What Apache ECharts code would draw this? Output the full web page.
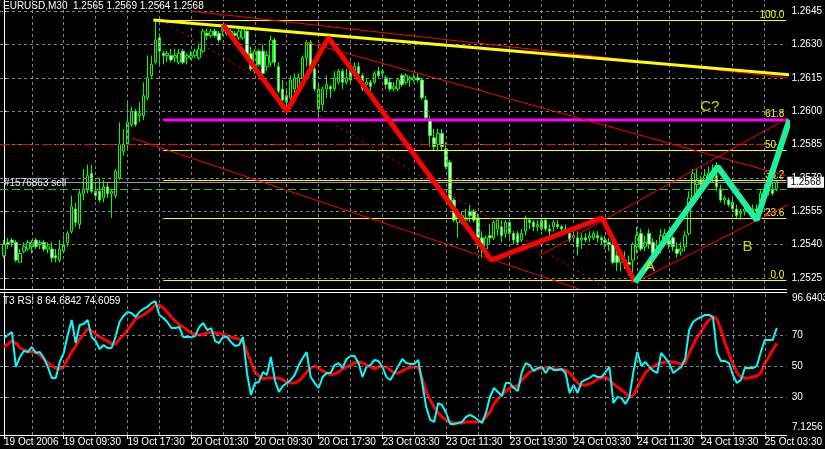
<!DOCTYPE html>
<html><head><meta charset="utf-8">
<script src="https://cdn.jsdelivr.net/npm/echarts@6/dist/echarts.min.js"></script>
<style>html,body{margin:0;padding:0;background:#000;overflow:hidden}#c{width:825px;height:449px}</style>
</head><body><div id="c"></div>
<script>
// ---- candles (bar index = position in arrays) ----
const opens = [1.2535,1.2541,1.2542,1.2541,1.2532,1.2537,1.2538,1.2539,1.2542,1.2540,1.2541,1.2538,1.2538,1.2535,1.2533,1.2537,1.2541,1.2546,1.2556,1.2549,
1.2563,1.2565,1.2572,1.2564,1.2564,1.2561,1.2566,1.2563,1.2562,1.2570,1.2582,1.2585,1.2594,1.2600,1.2598,1.2598,1.2606,1.2616,1.2622,1.2633,
1.2626,1.2625,1.2625,1.2624,1.2622,1.2627,1.2624,1.2624,1.2625,1.2624,1.2627,1.2635,1.2634,1.2636,1.2635,1.2636,1.2637,1.2636,1.2635,1.2633,
1.2633,1.2636,1.2626,1.2618,1.2627,1.2627,1.2620,1.2622,1.2632,1.2620,1.2610,1.2607,1.2606,1.2610,1.2610,1.2615,1.2624,1.2631,1.2619,1.2601,
1.2603,1.2610,1.2611,1.2610,1.2613,1.2618,1.2613,1.2620,1.2618,1.2620,1.2616,1.2612,1.2613,1.2613,1.2618,1.2617,1.2615,1.2613,1.2610,1.2610,
1.2616,1.2613,1.2614,1.2614,1.2615,1.2614,1.2605,1.2596,1.2588,1.2585,1.2590,1.2583,1.2577,1.2560,1.2550,1.2550,1.2551,1.2555,1.2555,1.2552,
1.2543,1.2538,1.2544,1.2543,1.2547,1.2548,1.2545,1.2550,1.2545,1.2545,1.2542,1.2546,1.2551,1.2550,1.2548,1.2551,1.2551,1.2547,1.2548,1.2549,
1.2548,1.2547,1.2545,1.2543,1.2543,1.2542,1.2543,1.2543,1.2543,1.2544,1.2543,1.2542,1.2541,1.2540,1.2535,1.2532,1.2533,1.2532,1.2533,1.2539,
1.2545,1.2539,1.2545,1.2541,1.2536,1.2541,1.2542,1.2542,1.2543,1.2538,1.2537,1.2539,1.2545,1.2561,1.2567,1.2569,1.2568,1.2568,1.2572,1.2571,
1.2565,1.2560,1.2560,1.2559,1.2556,1.2554,1.2555,1.2555,1.2554,1.2556,1.2557,1.2562,1.2564,1.2565,1.2565];
const highs = [1.2542,1.2543,1.2543,1.2542,1.2538,1.2541,1.2542,1.2542,1.2543,1.2542,1.2542,1.2541,1.2541,1.2538,1.2542,1.2544,1.2546,1.2562,1.2559,1.2565,
1.2574,1.2576,1.2576,1.2568,1.2570,1.2569,1.2568,1.2565,1.2574,1.2595,1.2592,1.2604,1.2602,1.2601,1.2604,1.2613,1.2625,1.2625,1.2641,1.2635,
1.2627,1.2627,1.2628,1.2628,1.2628,1.2628,1.2626,1.2627,1.2628,1.2630,1.2637,1.2637,1.2637,1.2637,1.2636,1.2639,1.2638,1.2637,1.2636,1.2637,
1.2638,1.2637,1.2629,1.2628,1.2628,1.2630,1.2627,1.2634,1.2633,1.2622,1.2614,1.2610,1.2616,1.2617,1.2617,1.2625,1.2632,1.2632,1.2622,1.2612,
1.2611,1.2616,1.2612,1.2618,1.2619,1.2619,1.2619,1.2622,1.2622,1.2622,1.2617,1.2615,1.2614,1.2618,1.2620,1.2619,1.2616,1.2615,1.2613,1.2615,
1.2617,1.2617,1.2616,1.2617,1.2617,1.2615,1.2607,1.2598,1.2592,1.2592,1.2592,1.2586,1.2578,1.2561,1.2556,1.2555,1.2556,1.2558,1.2556,1.2554,
1.2546,1.2544,1.2549,1.2551,1.2552,1.2551,1.2551,1.2552,1.2546,1.2546,1.2547,1.2553,1.2552,1.2551,1.2551,1.2552,1.2552,1.2549,1.2551,1.2551,
1.2549,1.2549,1.2546,1.2546,1.2546,1.2545,1.2545,1.2546,1.2546,1.2546,1.2544,1.2544,1.2543,1.2542,1.2537,1.2537,1.2537,1.2535,1.2541,1.2548,
1.2547,1.2544,1.2547,1.2543,1.2542,1.2547,1.2547,1.2544,1.2544,1.2541,1.2541,1.2546,1.2564,1.2574,1.2574,1.2571,1.2574,1.2575,1.2576,1.2577,
1.2567,1.2562,1.2561,1.2561,1.2558,1.2556,1.2557,1.2557,1.2558,1.2558,1.2565,1.2567,1.2567,1.2568,1.2569];
const lows = [1.2534,1.2538,1.2539,1.2532,1.2532,1.2536,1.2537,1.2536,1.2538,1.2538,1.2537,1.2536,1.2532,1.2532,1.2532,1.2536,1.2539,1.2545,1.2548,1.2547,
1.2560,1.2563,1.2563,1.2560,1.2559,1.2559,1.2561,1.2552,1.2561,1.2569,1.2580,1.2583,1.2593,1.2593,1.2595,1.2596,1.2605,1.2615,1.2621,1.2620,
1.2621,1.2622,1.2622,1.2622,1.2621,1.2621,1.2621,1.2623,1.2624,1.2623,1.2626,1.2632,1.2633,1.2633,1.2631,1.2634,1.2634,1.2633,1.2632,1.2632,
1.2632,1.2624,1.2618,1.2617,1.2620,1.2616,1.2618,1.2620,1.2620,1.2608,1.2602,1.2600,1.2605,1.2607,1.2609,1.2614,1.2620,1.2618,1.2609,1.2596,
1.2600,1.2606,1.2606,1.2609,1.2612,1.2610,1.2612,1.2613,1.2617,1.2616,1.2609,1.2610,1.2609,1.2612,1.2615,1.2615,1.2610,1.2609,1.2609,1.2609,
1.2611,1.2612,1.2611,1.2613,1.2613,1.2605,1.2596,1.2584,1.2582,1.2582,1.2582,1.2574,1.2558,1.2550,1.2543,1.2549,1.2550,1.2550,1.2550,1.2538,
1.2534,1.2535,1.2540,1.2542,1.2544,1.2541,1.2543,1.2543,1.2540,1.2540,1.2541,1.2544,1.2547,1.2546,1.2546,1.2546,1.2546,1.2543,1.2546,1.2547,
1.2546,1.2545,1.2541,1.2541,1.2535,1.2538,1.2541,1.2541,1.2542,1.2541,1.2540,1.2538,1.2537,1.2531,1.2528,1.2528,1.2529,1.2526,1.2524,1.2536,
1.2537,1.2537,1.2538,1.2535,1.2534,1.2536,1.2541,1.2538,1.2537,1.2534,1.2535,1.2537,1.2544,1.2560,1.2563,1.2564,1.2565,1.2567,1.2568,1.2564,
1.2559,1.2558,1.2557,1.2555,1.2552,1.2551,1.2553,1.2554,1.2553,1.2552,1.2555,1.2561,1.2562,1.2562,1.2564];
const closes = [1.2540,1.2540,1.2541,1.2533,1.2536,1.2539,1.2541,1.2541,1.2539,1.2541,1.2538,1.2539,1.2534,1.2534,1.2538,1.2540,1.2545,1.2557,1.2550,1.2563,
1.2565,1.2571,1.2564,1.2562,1.2560,1.2566,1.2563,1.2564,1.2573,1.2585,1.2585,1.2595,1.2600,1.2594,1.2599,1.2607,1.2615,1.2621,1.2632,1.2627,
1.2625,1.2626,1.2623,1.2625,1.2626,1.2622,1.2625,1.2625,1.2627,1.2628,1.2636,1.2634,1.2636,1.2634,1.2632,1.2637,1.2635,1.2634,1.2634,1.2636,
1.2637,1.2625,1.2619,1.2627,1.2621,1.2617,1.2625,1.2632,1.2622,1.2609,1.2605,1.2604,1.2614,1.2615,1.2615,1.2624,1.2631,1.2620,1.2610,1.2610,
1.2610,1.2612,1.2610,1.2615,1.2618,1.2613,1.2615,1.2614,1.2620,1.2617,1.2610,1.2613,1.2611,1.2617,1.2616,1.2618,1.2612,1.2610,1.2611,1.2614,
1.2612,1.2616,1.2615,1.2615,1.2614,1.2606,1.2597,1.2589,1.2584,1.2590,1.2584,1.2575,1.2559,1.2551,1.2553,1.2553,1.2552,1.2553,1.2551,1.2543,
1.2538,1.2543,1.2543,1.2550,1.2551,1.2544,1.2550,1.2545,1.2542,1.2541,1.2545,1.2552,1.2550,1.2548,1.2549,1.2547,1.2547,1.2546,1.2550,1.2548,
1.2547,1.2546,1.2542,1.2544,1.2539,1.2543,1.2542,1.2544,1.2545,1.2543,1.2542,1.2541,1.2540,1.2532,1.2532,1.2534,1.2532,1.2531,1.2540,1.2544,
1.2538,1.2541,1.2540,1.2536,1.2537,1.2544,1.2545,1.2540,1.2539,1.2536,1.2538,1.2544,1.2561,1.2572,1.2569,1.2567,1.2571,1.2572,1.2570,1.2566,
1.2560,1.2561,1.2558,1.2556,1.2553,1.2555,1.2556,1.2556,1.2556,1.2555,1.2563,1.2565,1.2565,1.2563,1.2568];

// ---- T3 RSI 8 panel ----
const t3Values = [62.3,64.2,66.1,64.8,61.6,60.3,59.7,59.0,59.0,57.1,54.5,51.9,50.0,48.7,48.1,49.4,54.5,59.0,62.9,67.4,
70.6,73.9,72.6,70.6,68.7,67.4,66.1,64.2,64.2,67.4,70.0,73.2,76.5,80.3,81.6,82.9,84.8,86.8,89.4,89.4,
87.4,84.8,81.6,79.0,76.5,75.2,73.2,71.3,70.6,70.0,70.6,71.3,71.9,71.3,70.6,70.6,69.4,68.7,68.1,67.4,
65.5,59.0,52.6,46.1,43.5,41.6,42.3,42.3,42.3,42.3,41.0,39.7,39.0,39.0,40.3,42.9,46.1,48.7,50.0,48.7,
46.8,45.5,44.2,44.8,46.1,48.1,49.4,50.6,51.9,52.6,51.9,50.6,49.4,48.1,49.4,49.4,49.4,47.4,45.5,45.5,
46.8,48.1,49.4,49.4,49.4,41.6,33.2,28.1,23.5,19.7,17.1,15.2,13.9,13.2,13.2,13.2,13.9,13.9,13.9,13.9,
14.5,17.1,20.3,25.5,28.7,31.3,33.9,35.8,36.5,37.1,41.0,43.5,46.1,47.4,48.1,48.7,48.7,48.7,48.1,48.1,
47.4,47.4,45.5,42.3,39.0,37.7,37.7,38.4,39.7,41.6,42.3,42.9,41.0,38.4,36.5,34.5,32.6,30.0,31.3,36.5,
41.0,45.5,48.1,49.4,51.3,51.9,52.6,52.6,52.6,51.9,51.3,51.9,58.4,63.5,68.7,71.9,76.5,79.7,81.6,80.3,
73.2,64.8,57.7,51.3,45.5,42.9,42.3,42.3,42.9,43.5,45.5,51.9,55.8,60.3,64.6842];
const rsiValues = [68.1,70.0,71.9,49.4,55.8,59.7,59.0,62.3,58.4,59.0,55.2,49.4,42.3,42.3,52.6,58.4,70.0,79.7,64.8,76.5,
77.1,79.7,68.7,66.1,61.0,63.5,61.6,61.6,68.7,78.4,82.3,84.8,84.2,81.6,84.8,86.8,88.1,90.6,91.9,82.9,
81.0,78.4,74.5,74.5,75.2,68.7,68.7,68.7,69.4,75.2,77.7,73.2,74.5,66.1,64.8,68.7,68.7,65.5,62.9,63.5,
68.7,45.5,31.3,39.0,39.7,46.1,44.2,55.8,41.0,33.2,37.1,39.0,41.0,44.2,50.6,55.2,59.0,42.9,39.0,35.8,
42.9,45.5,45.5,50.6,51.9,48.7,54.5,56.5,56.5,51.9,42.9,49.4,50.6,53.9,53.2,49.4,42.9,41.0,45.5,50.0,
54.5,51.9,51.3,51.3,53.9,39.0,23.5,15.2,13.9,26.1,24.8,19.7,12.6,12.6,13.2,13.9,17.1,18.4,17.1,15.2,
13.2,19.7,30.0,35.8,33.2,30.6,39.0,39.0,35.8,33.9,46.1,51.9,50.6,46.8,48.7,49.4,45.5,49.4,47.4,47.4,
48.1,45.5,32.6,37.7,32.6,39.7,41.0,42.3,44.2,42.9,42.9,46.1,49.4,26.1,30.0,29.4,25.5,30.0,46.1,59.0,
50.0,52.6,49.4,46.8,45.5,58.4,55.2,51.9,45.5,47.4,49.4,54.5,73.2,78.4,80.3,81.6,82.9,82.9,81.6,58.4,
53.2,53.2,51.9,44.2,39.0,41.0,48.7,48.7,48.7,50.0,59.0,66.8,66.8,66.8,74.6059];

// ---- axis ticks ----
const priceTicks = [1.2525,1.2540,1.2555,1.2570,1.2585,1.2600,1.2615,1.2630,1.2645];
const rsiTicks = [30,50,70];
const rsiMin = 7.1256, rsiMax = 96.6403;
const timeTickIdx = [0,15,31,47,63,79,95,111,127,143,159,175,191];
const timeTickText = ['19 Oct 2006','19 Oct 09:30','19 Oct 17:30','20 Oct 01:30','20 Oct 09:30','20 Oct 17:30',
  '23 Oct 03:30','23 Oct 11:30','23 Oct 19:30','24 Oct 03:30','24 Oct 11:30','24 Oct 19:30','25 Oct 03:30'];
const gridBarStep = 8, gridBarFirst = 7;

// ---- chart objects (bar index, price) ----
const fibHigh = 1.2641, fibLow = 1.2524, fibStartBar = 40;
const fibPercents = [100.0, 61.8, 50.0, 38.2, 23.6, 0.0];
const magentaLevel = 1.2596;
const redDashLevel = 1.2585;
const orderLevel = 1.2565, orderText = '#1576863 sell';
const bidPrice = 1.2568;
const redZigzag = [[55,1.2639],[71,1.2600],[81.5,1.2633],[122.4,1.2533],[150.2,1.2552],[158.5,1.2523]];
const greenZigzag = [[158.5,1.2523],[179.25,1.2575],[189,1.2551],[197.25,1.2596]];
const yellowTrend = [[37.5,1.2641],[205.75,1.2615]];
const thinRedLines = [
  [[47,1.2645],[196.75,1.2615]],
  [[76,1.2631],[196.25,1.2571]],
  [[32,1.2588],[144.5,1.2520]],
  [[134.5,1.2535],[197,1.2597]],
  [[158.5,1.2523],[197,1.2558]]
];
const dottedRed = [[39.5,1.2641],[151.5,1.2520]];
const waveLabels = [[177.25,1.2602,'C?'],[186.75,1.2539,'B'],[162.25,1.2530,'A']];
const titleText = 'EURUSD,M30  1.2565 1.2569 1.2564 1.2568';
const rsiTitle = 'T3 RSI 8 64.6842 74.6059';

function hasFont(name){
  const c=document.createElement('canvas').getContext('2d');
  const s='abcdefghij0123456789 Oct';
  c.font='20px monospace'; const a=c.measureText(s).width;
  c.font="20px '"+name+"', monospace"; return Math.abs(c.measureText(s).width-a)>0.5;
}
const NARROW = hasFont('Liberation Sans Narrow');
const FONT = NARROW ? "'Liberation Sans Narrow'" : "'Liberation Sans'";
const FS = NARROW ? 12 : 10;
const GRID = '#7c8794';

const chart = echarts.init(document.getElementById('c'));
const xMax = 196.5, pMin = 1.2520, pMax = 1.2650, rMin = 5.48, rMax = 97.74;
const gridBars = [];
for (let b = gridBarFirst; b < xMax; b += gridBarStep) gridBars.push(b);

const hSeg = (v,x0,x1)=>[{coord:[x0,v]},{coord:[x1,v]}];
const vSeg = (b,y0,y1)=>[{coord:[b,y0]},{coord:[b,y1]}];
const candleData = opens.map((o,i)=>[i,o,closes[i],lows[i],highs[i]]);
const fibMarks = fibPercents.map(p=>{
  const v = fibLow + (fibHigh-fibLow)*p/100;
  return [{coord:[fibStartBar,v]},{coord:[xMax,v],label:{formatter:p.toFixed(1)}}];
});
const lineSeries = (data,color,width,extra)=>Object.assign({type:'line',xAxisIndex:0,yAxisIndex:0,data,symbol:'none',silent:true,
  lineStyle:{color,width},z:6,animation:false},extra||{});
const gridStyle = {color:GRID,width:1,type:[3,3]};

const series = [
  {type:'line',xAxisIndex:0,yAxisIndex:0,data:[],silent:true,z:1,
    markLine:{symbol:'none',silent:true,animation:false,label:{show:false},lineStyle:gridStyle,
      data:priceTicks.map(v=>hSeg(v,-1,xMax)).concat(gridBars.map(b=>vSeg(b,pMin,pMax)))}},
  {type:'line',xAxisIndex:0,yAxisIndex:0,data:[],silent:true,z:3,
    markLine:{symbol:'none',silent:true,animation:false,data:[
      [{coord:[-1,bidPrice],lineStyle:{color:'#9a9a9a',width:1,type:'solid'},
        label:{show:true,position:'end',formatter:bidPrice.toFixed(4),color:'#000',backgroundColor:'#fff',
          fontFamily:FONT,fontSize:FS,padding:[1,3,0,3],distance:1}},{coord:[xMax,bidPrice]}],
      [{coord:[-1,redDashLevel],lineStyle:{color:'#ff0000',width:1,type:[10,4,3,4]},label:{show:false}},{coord:[191,redDashLevel]}],
      [{coord:[-1,orderLevel],lineStyle:{color:'#22cc22',width:1,type:[8,4]},
        label:{show:true,position:'insideStartTop',formatter:orderText,color:'#e8eefc',fontFamily:FONT,fontSize:FS,distance:[4,1]}},{coord:[xMax,orderLevel]}]
    ]}},
  {type:'line',xAxisIndex:0,yAxisIndex:0,data:[],silent:true,z:4,
    markLine:{symbol:'none',silent:true,animation:false,
      lineStyle:{color:'#ffff00',width:1,type:'solid'},
      label:{show:true,position:'insideEndTop',color:'#ffff00',fontFamily:FONT,fontSize:FS,distance:[2,0]},
      data:fibMarks}},
  {type:'candlestick',xAxisIndex:0,yAxisIndex:0,data:candleData,encode:{x:0,y:[1,2,3,4]},barWidth:3,z:2,silent:true,
    itemStyle:{color:'#000000',color0:'#ffffff',borderColor:'#00ff00',borderColor0:'#00ff00',borderWidth:1}},
  lineSeries([[fibStartBar,magentaLevel],[205.75,magentaLevel]],'#ff00ff',3,{clip:false,z:5}),
  ...thinRedLines.map(l=>lineSeries(l,'#ff0000',1,{z:5})),
  lineSeries(dottedRed,'#ff0000',1,{z:5,lineStyle:{color:'#ff0000',width:1,type:[2,4]}}),
  lineSeries(yellowTrend,'#ffff00',3,{clip:false,z:6}),
  lineSeries(redZigzag,'#ff0000',5,{z:7}),
  lineSeries(greenZigzag,'#1ef0a0',6,{z:7,clip:false}),
  {type:'scatter',xAxisIndex:0,yAxisIndex:0,data:waveLabels.map(a=>[a[0],a[1],a[2]]),symbolSize:1,
    itemStyle:{color:'rgba(0,0,0,0)'},silent:true,z:8,
    label:{show:true,position:'inside',formatter:p=>p.data[2],color:'#ffff00',fontFamily:"'Liberation Sans'",fontSize:15}},
  // RSI panel
  {type:'line',xAxisIndex:1,yAxisIndex:1,data:[],silent:true,z:1,
    markLine:{symbol:'none',silent:true,animation:false,label:{show:false},lineStyle:gridStyle,
      data:rsiTicks.map(v=>hSeg(v,-1,xMax)).concat(gridBars.map(b=>vSeg(b,rMin,rMax)))}},
  {type:'line',xAxisIndex:1,yAxisIndex:1,data:t3Values.map((v,i)=>[i,v]),symbol:'none',silent:true,
    lineStyle:{color:'#ff0000',width:3},z:3},
  {type:'line',xAxisIndex:1,yAxisIndex:1,data:rsiValues.map((v,i)=>[i,v]),symbol:'none',silent:true,
    lineStyle:{color:'#00ffff',width:2},z:4}
];

const plainX = {type:'value',min:-1,max:xMax,
  axisLine:{show:true,lineStyle:{color:'#ffffff',width:1}},axisTick:{show:false},axisLabel:{show:false},splitLine:{show:false}};

chart.setOption({
  backgroundColor:'#000000',
  animation:false,
  textStyle:{fontFamily:FONT},
  grid:[{left:-2,top:0,width:790,height:289},{left:-2,top:292,width:790,height:143}],
  xAxis:[
    Object.assign({},plainX,{gridIndex:0,position:'bottom'}),
    Object.assign({},plainX,{gridIndex:1,position:'top'}),
    {type:'value',gridIndex:1,position:'bottom',min:-1,max:xMax,
      axisLine:{show:true,lineStyle:{color:'#ffffff'}},
      axisTick:{show:true,customValues:timeTickIdx,length:4,lineStyle:{color:'#ffffff'}},
      splitLine:{show:false},
      axisLabel:{show:true,customValues:timeTickIdx,formatter:v=>timeTickText[timeTickIdx.indexOf(v)],hideOverlap:false,
        showMinLabel:true,align:'left',color:'#ffffff',fontFamily:FONT,fontSize:FS,margin:2}}
  ],
  yAxis:[
    {type:'value',gridIndex:0,position:'right',min:pMin,max:pMax,
      axisLine:{show:true,lineStyle:{color:'#ffffff'}},
      axisTick:{show:true,customValues:priceTicks,length:3,lineStyle:{color:'#ffffff'}},
      splitLine:{show:false},
      axisLabel:{show:true,customValues:priceTicks,formatter:v=>v.toFixed(4),color:'#ffffff',fontFamily:FONT,fontSize:FS,margin:5}},
    {type:'value',gridIndex:1,position:'right',min:rMin,max:rMax,
      axisLine:{show:true,lineStyle:{color:'#ffffff'}},
      axisTick:{show:true,customValues:rsiTicks,length:3,lineStyle:{color:'#ffffff'}},
      splitLine:{show:false},
      axisLabel:{show:true,customValues:rsiTicks,formatter:v=>String(v),color:'#ffffff',fontFamily:FONT,fontSize:FS,margin:5}}
  ],
  series
});

const yTop = chart.convertToPixel({yAxisIndex:1},rsiMax);
const yBot = chart.convertToPixel({yAxisIndex:1},rsiMin);
chart.setOption({graphic:[
  {type:'text',left:3,top:1,style:{text:titleText,fill:'#ffffff',font:FS+'px '+FONT}},
  {type:'text',left:3,top:296,style:{text:rsiTitle,fill:'#ffffff',font:FS+'px '+FONT}},
  {type:'text',x:792,y:yTop,style:{text:rsiMax.toFixed(4),fill:'#ffffff',font:FS+'px '+FONT,verticalAlign:'top'}},
  {type:'text',x:792,y:yBot,style:{text:rsiMin.toFixed(4),fill:'#ffffff',font:FS+'px '+FONT,verticalAlign:'bottom'}}
]});
</script></body></html>
